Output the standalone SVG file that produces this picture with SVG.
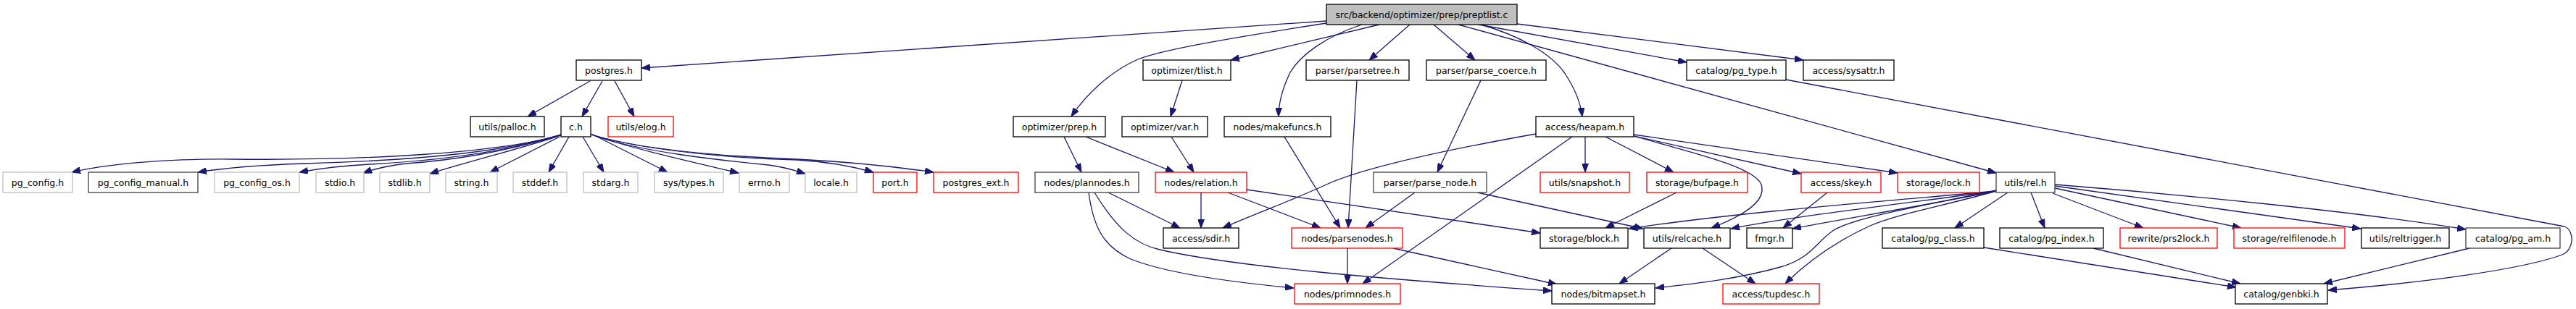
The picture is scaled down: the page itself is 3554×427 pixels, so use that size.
<svg xmlns="http://www.w3.org/2000/svg" width="3554" height="427" viewBox="0 0 3554 427">
<style>
.node rect{fill:#fff;stroke:#000;stroke-width:1.3}
.node.g rect{stroke:#bfbfbf}
.node.r rect{stroke:#ff0000}
.node.d rect{stroke:#404040}
.node.m rect{fill:#bfbfbf;stroke:#000}
.node text{font-family:"DejaVu Sans","Liberation Sans",sans-serif;font-size:12.5px;text-anchor:middle;fill:#000}
#edges path{fill:none;stroke:#191970;stroke-width:1.3;marker-end:url(#arr)}
</style>
<defs>
<marker id="arr" markerWidth="12" markerHeight="9" refX="12" refY="4.5" orient="auto" markerUnits="userSpaceOnUse">
<path d="M0,0 L12,4.5 L0,9 z" fill="#191970" stroke="#191970" stroke-width="1"/>
</marker>
</defs>
<rect width="3554" height="427" fill="#fff"/>
<g id="edges">
<path d="M1830,29 L885,94"/>
<path d="M1830,32 C1680,55 1600,70 1570,82 C1535,97 1500,128 1478,161"/>
<path d="M1903,34 L1698,83"/>
<path d="M1879,34 C1830,50 1795,75 1780,100 C1768,125 1764,145 1764,161"/>
<path d="M1945,34 L1889,83"/>
<path d="M1978,34 L2035,83"/>
<path d="M2040,33 C2100,50 2140,75 2158,100 C2175,125 2181,145 2183,161"/>
<path d="M2012,34 L2754,239"/>
<path d="M2040,34 L2327,86"/>
<path d="M2093,33 L2488,83"/>
<path d="M814,112 L728,161"/>
<path d="M831,112 L803,161"/>
<path d="M848,112 L875,161"/>
<path d="M774,186 C690,212 500,222 320,220 C220,219 140,228 99,238"/>
<path d="M774,186 C690,212 560,222 420,226 C360,228 310,232 273,238"/>
<path d="M774,186 C700,210 600,222 510,227 C470,229 440,233 413,238"/>
<path d="M774,186 C700,210 620,222 560,226 C535,229 515,234 501,239"/>
<path d="M774,187 C720,205 650,222 593,240"/>
<path d="M772,189 L676,238"/>
<path d="M785,189 L757,238"/>
<path d="M804,189 L833,238"/>
<path d="M816,185 L921,238"/>
<path d="M816,186 C870,205 960,225 1019,239"/>
<path d="M816,186 C880,210 1000,222 1060,228 C1080,230 1095,235 1111,240"/>
<path d="M816,186 C900,212 1050,220 1100,221 C1150,224 1180,231 1205,238"/>
<path d="M816,186 C900,212 1050,218 1100,220 C1180,224 1240,231 1288,238"/>
<path d="M1468,189 L1492,238"/>
<path d="M1498,189 L1620,238"/>
<path d="M1631,111 L1615,161"/>
<path d="M1616,189 L1647,238"/>
<path d="M1529,266 L1628,315"/>
<path d="M1502,266 C1508,310 1520,340 1560,358 C1610,378 1700,390 1785,398"/>
<path d="M1510,266 C1540,315 1565,337 1600,345 C1700,368 1900,385 2141,402"/>
<path d="M1657,266 L1657,315"/>
<path d="M1694,266 L1822,315"/>
<path d="M1720,262 L2125,322"/>
<path d="M1772,189 L1849,315"/>
<path d="M1872,111 L1860,315"/>
<path d="M2043,111 L1983,238"/>
<path d="M1952,266 L1884,315"/>
<path d="M2038,266 L2267,316"/>
<path d="M2119,185 C1990,208 1880,232 1830,255 C1780,278 1730,296 1687,315"/>
<path d="M2169,189 L1880,392"/>
<path d="M2187,189 L2187,238"/>
<path d="M2215,189 L2309,238"/>
<path d="M2254,188 C2330,210 2420,230 2430,255 C2438,280 2400,300 2361,315"/>
<path d="M2254,188 L2485,240"/>
<path d="M2254,186 L2618,239"/>
<path d="M2313,266 L2215,315"/>
<path d="M2521,266 L2460,315"/>
<path d="M2306,343 L2234,392"/>
<path d="M2349,343 L2422,392"/>
<path d="M1859,343 L1859,392"/>
<path d="M1922,343 L2148,393"/>
<path d="M2754,264 C2600,278 2400,293 2247,316"/>
<path d="M2754,264 C2620,282 2480,298 2388,316"/>
<path d="M2754,264 C2650,285 2540,303 2473,316"/>
<path d="M2754,263 C2650,285 2560,300 2530,318 C2505,335 2500,355 2460,368 C2400,385 2340,392 2284,398"/>
<path d="M2754,264 C2680,285 2620,295 2580,312 C2530,335 2490,365 2463,392"/>
<path d="M2770,266 L2697,315"/>
<path d="M2802,266 L2821,315"/>
<path d="M2832,267 L2957,315"/>
<path d="M2835,260 L3092,315"/>
<path d="M2835,257 L3257,316"/>
<path d="M2835,255 C3000,268 3250,292 3402,317"/>
<path d="M2464,110 L3538,313 C3552,318 3552,345 3535,352 C3480,372 3350,390 3212,401"/>
<path d="M3407,343 L3206,392"/>
<path d="M2737,342 L3085,397"/>
<path d="M2888,343 L3091,392"/>
</g>
<g id="n_main" class="node m"><rect x="1830" y="6" width="263" height="28"/><text x="1961.5" y="24.5">src/backend/optimizer/prep/preptlist.c</text></g>
<g id="n_postgres" class="node"><rect x="795" y="83" width="90" height="28"/><text x="840" y="101.5">postgres.h</text></g>
<g id="n_palloc" class="node"><rect x="649" y="161" width="102" height="28"/><text x="700" y="179.5">utils/palloc.h</text></g>
<g id="n_c" class="node"><rect x="774" y="161" width="41" height="28"/><text x="794.5" y="179.5">c.h</text></g>
<g id="n_elog" class="node r"><rect x="839" y="161" width="90" height="28"/><text x="884" y="179.5">utils/elog.h</text></g>
<g id="n_pg_config" class="node g"><rect x="4" y="238" width="96" height="28"/><text x="52" y="256.5">pg_config.h</text></g>
<g id="n_pg_config_manual" class="node d"><rect x="122" y="238" width="151" height="28"/><text x="197.5" y="256.5">pg_config_manual.h</text></g>
<g id="n_pg_config_os" class="node g"><rect x="296" y="238" width="117" height="28"/><text x="354.5" y="256.5">pg_config_os.h</text></g>
<g id="n_stdio" class="node g"><rect x="436" y="238" width="66" height="28"/><text x="469" y="256.5">stdio.h</text></g>
<g id="n_stdlib" class="node g"><rect x="524" y="238" width="69" height="28"/><text x="558.5" y="256.5">stdlib.h</text></g>
<g id="n_string" class="node g"><rect x="615" y="238" width="71" height="28"/><text x="650.5" y="256.5">string.h</text></g>
<g id="n_stddef" class="node g"><rect x="708" y="238" width="74" height="28"/><text x="745" y="256.5">stddef.h</text></g>
<g id="n_stdarg" class="node g"><rect x="805" y="238" width="75" height="28"/><text x="842.5" y="256.5">stdarg.h</text></g>
<g id="n_systypes" class="node g"><rect x="903" y="238" width="95" height="28"/><text x="950.5" y="256.5">sys/types.h</text></g>
<g id="n_errno" class="node g"><rect x="1020" y="238" width="69" height="28"/><text x="1054.5" y="256.5">errno.h</text></g>
<g id="n_locale" class="node g"><rect x="1111" y="238" width="71" height="28"/><text x="1146.5" y="256.5">locale.h</text></g>
<g id="n_port" class="node r"><rect x="1205" y="238" width="60" height="28"/><text x="1235" y="256.5">port.h</text></g>
<g id="n_postgres_ext" class="node r"><rect x="1288" y="238" width="117" height="28"/><text x="1346.5" y="256.5">postgres_ext.h</text></g>
<g id="n_tlist" class="node"><rect x="1577" y="83" width="121" height="28"/><text x="1637.5" y="101.5">optimizer/tlist.h</text></g>
<g id="n_prep" class="node"><rect x="1398" y="161" width="127" height="28"/><text x="1461.5" y="179.5">optimizer/prep.h</text></g>
<g id="n_var" class="node"><rect x="1548" y="161" width="118" height="28"/><text x="1607" y="179.5">optimizer/var.h</text></g>
<g id="n_plannodes" class="node d"><rect x="1428" y="238" width="143" height="28"/><text x="1499.5" y="256.5">nodes/plannodes.h</text></g>
<g id="n_relation" class="node r"><rect x="1594" y="238" width="126" height="28"/><text x="1657" y="256.5">nodes/relation.h</text></g>
<g id="n_sdir" class="node"><rect x="1605" y="315" width="104" height="28"/><text x="1657" y="333.5">access/sdir.h</text></g>
<g id="n_makefuncs" class="node"><rect x="1689" y="161" width="147" height="28"/><text x="1762.5" y="179.5">nodes/makefuncs.h</text></g>
<g id="n_parsetree" class="node"><rect x="1802" y="83" width="142" height="28"/><text x="1873" y="101.5">parser/parsetree.h</text></g>
<g id="n_parse_coerce" class="node"><rect x="1968" y="83" width="165" height="28"/><text x="2050.5" y="101.5">parser/parse_coerce.h</text></g>
<g id="n_parse_node" class="node d"><rect x="1895" y="238" width="156" height="28"/><text x="1973" y="256.5">parser/parse_node.h</text></g>
<g id="n_parsenodes" class="node r"><rect x="1782" y="315" width="153" height="28"/><text x="1858.5" y="333.5">nodes/parsenodes.h</text></g>
<g id="n_primnodes" class="node r"><rect x="1786" y="392" width="146" height="28"/><text x="1859" y="410.5">nodes/primnodes.h</text></g>
<g id="n_heapam" class="node"><rect x="2119" y="161" width="135" height="28"/><text x="2186.5" y="179.5">access/heapam.h</text></g>
<g id="n_snapshot" class="node r"><rect x="2125" y="238" width="123" height="28"/><text x="2186.5" y="256.5">utils/snapshot.h</text></g>
<g id="n_block" class="node"><rect x="2125" y="315" width="121" height="28"/><text x="2185.5" y="333.5">storage/block.h</text></g>
<g id="n_bitmapset" class="node"><rect x="2141" y="392" width="142" height="28"/><text x="2212" y="410.5">nodes/bitmapset.h</text></g>
<g id="n_pg_type" class="node"><rect x="2327" y="83" width="137" height="28"/><text x="2395.5" y="101.5">catalog/pg_type.h</text></g>
<g id="n_sysattr" class="node"><rect x="2488" y="83" width="125" height="28"/><text x="2550.5" y="101.5">access/sysattr.h</text></g>
<g id="n_bufpage" class="node r"><rect x="2272" y="238" width="139" height="28"/><text x="2341.5" y="256.5">storage/bufpage.h</text></g>
<g id="n_skey" class="node r"><rect x="2485" y="238" width="110" height="28"/><text x="2540" y="256.5">access/skey.h</text></g>
<g id="n_lock" class="node r"><rect x="2618" y="238" width="113" height="28"/><text x="2674.5" y="256.5">storage/lock.h</text></g>
<g id="n_rel" class="node d"><rect x="2754" y="238" width="81" height="28"/><text x="2794.5" y="256.5">utils/rel.h</text></g>
<g id="n_relcache" class="node"><rect x="2268" y="315" width="119" height="28"/><text x="2327.5" y="333.5">utils/relcache.h</text></g>
<g id="n_fmgr" class="node"><rect x="2410" y="315" width="63" height="28"/><text x="2441.5" y="333.5">fmgr.h</text></g>
<g id="n_pg_class" class="node"><rect x="2597" y="315" width="140" height="28"/><text x="2667" y="333.5">catalog/pg_class.h</text></g>
<g id="n_pg_index" class="node"><rect x="2759" y="315" width="143" height="28"/><text x="2830.5" y="333.5">catalog/pg_index.h</text></g>
<g id="n_prs2lock" class="node r"><rect x="2925" y="315" width="134" height="28"/><text x="2992" y="333.5">rewrite/prs2lock.h</text></g>
<g id="n_relfilenode" class="node r"><rect x="3082" y="315" width="153" height="28"/><text x="3158.5" y="333.5">storage/relfilenode.h</text></g>
<g id="n_reltrigger" class="node"><rect x="3258" y="315" width="121" height="28"/><text x="3318.5" y="333.5">utils/reltrigger.h</text></g>
<g id="n_pg_am" class="node d"><rect x="3402" y="315" width="130" height="28"/><text x="3467" y="333.5">catalog/pg_am.h</text></g>
<g id="n_tupdesc" class="node r"><rect x="2377" y="392" width="133" height="28"/><text x="2443.5" y="410.5">access/tupdesc.h</text></g>
<g id="n_genbki" class="node"><rect x="3084" y="392" width="127" height="28"/><text x="3147.5" y="410.5">catalog/genbki.h</text></g>
</svg>
